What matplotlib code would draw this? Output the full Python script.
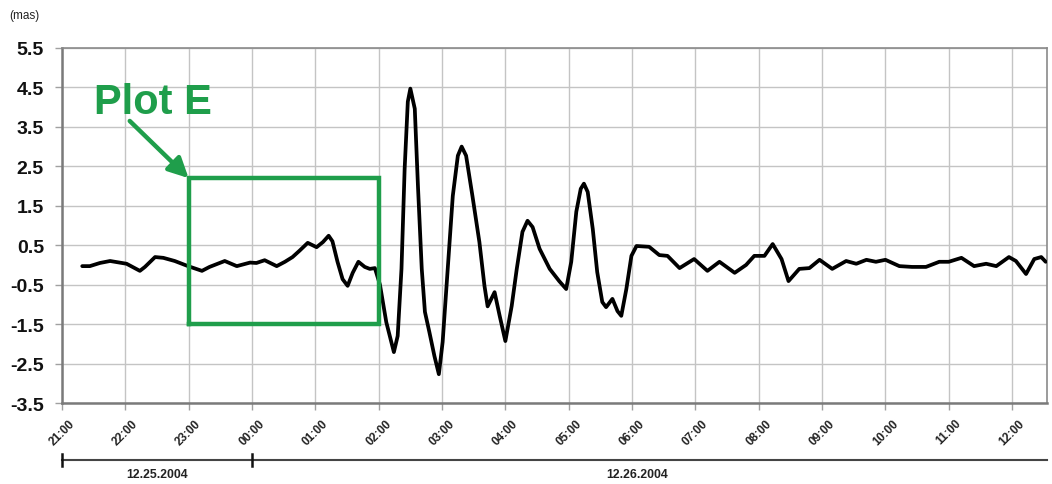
import matplotlib
matplotlib.use("Agg")
import matplotlib.pyplot as plt

plt.rcParams["font.family"] = ["Liberation Sans", "DejaVu Sans"]

# Hours elapsed since 21:00 on 12.25.2004, and measured signal (mas)
hours = [0.32, 0.44, 0.60, 0.76, 1.02, 1.23, 1.31, 1.47, 1.60, 1.78,
         1.99, 2.21, 2.33, 2.57, 2.76, 2.97, 3.07, 3.20, 3.39, 3.52,
         3.64, 3.75, 3.88, 4.02, 4.12, 4.21, 4.27, 4.35, 4.43, 4.51,
         4.59, 4.68, 4.78, 4.86, 4.94, 5.02, 5.12, 5.24, 5.30, 5.36,
         5.41, 5.46, 5.50, 5.57, 5.62, 5.68, 5.73, 5.80, 5.88, 5.95,
         6.01, 6.09, 6.17, 6.25, 6.31, 6.38, 6.48, 6.59, 6.67, 6.72,
         6.83, 6.91, 7.00, 7.10, 7.18, 7.27, 7.35, 7.43, 7.54, 7.70,
         7.85, 7.96, 8.04, 8.12, 8.19, 8.24, 8.30, 8.38, 8.45, 8.53,
         8.59, 8.69, 8.77, 8.83, 8.91, 8.99, 9.07, 9.27, 9.43, 9.56,
         9.75, 9.98, 10.19, 10.38, 10.62, 10.80, 10.93, 11.09, 11.22, 11.36,
         11.47, 11.64, 11.80, 11.96, 12.16, 12.38, 12.54, 12.70, 12.85, 13.00,
         13.22, 13.42, 13.64, 13.85, 14.00, 14.20, 14.40, 14.59, 14.75, 14.95,
         15.06, 15.22, 15.35, 15.46, 15.53]
mas = [-0.03, -0.03, 0.05, 0.10, 0.03, -0.15, -0.05, 0.20, 0.18, 0.10,
       -0.03, -0.15, -0.05, 0.10, -0.03, 0.06, 0.05, 0.12, -0.03, 0.08,
       0.20, 0.36, 0.56, 0.45, 0.58, 0.74, 0.60, 0.08, -0.36, -0.53,
       -0.20, 0.08, -0.05, -0.10, -0.08, -0.50, -1.45, -2.21, -1.80, -0.10,
       2.44, 4.14, 4.47, 3.96, 2.00, -0.10, -1.19, -1.70, -2.31, -2.77,
       -1.95, -0.10, 1.75, 2.77, 3.00, 2.77, 1.75, 0.58, -0.53, -1.05,
       -0.69, -1.29, -1.93, -1.04, -0.10, 0.84, 1.12, 0.96, 0.41, -0.10,
       -0.41, -0.61, 0.08, 1.35, 1.93, 2.06, 1.85, 0.91, -0.18, -0.94,
       -1.07, -0.86, -1.17, -1.29, -0.61, 0.23, 0.48, 0.46, 0.25, 0.23,
       -0.08, 0.15, -0.15, 0.08, -0.20, 0.00, 0.23, 0.23, 0.53, 0.15,
       -0.41, -0.10, -0.08, 0.13, -0.10, 0.10, 0.03, 0.13, 0.08, 0.13,
       -0.03, -0.05, -0.05, 0.08, 0.08, 0.18, -0.03, 0.03, -0.03, 0.20,
       0.10, -0.23, 0.15, 0.20, 0.08]

hour_labels = ["21:00", "22:00", "23:00", "00:00", "01:00", "02:00", "03:00",
               "04:00", "05:00", "06:00", "07:00", "08:00", "09:00", "10:00",
               "11:00", "12:00"]
y_ticks = [5.5, 4.5, 3.5, 2.5, 1.5, 0.5, -0.5, -1.5, -2.5, -3.5]

# Highlighted window "Plot E": 23:00 to 02:00
box_x = [2.0, 5.0]
box_y = [-1.5, 2.2]
dates = ["12.25.2004", "12.26.2004"]

green = "#1f9e4b"
x_max = 15.55

fig = plt.figure(figsize=(10.52, 4.85), dpi=100)
ax_left, ax_w = 0.0589, 0.9363
ax = fig.add_axes([ax_left, 0.167, ax_w, 0.732])

ax.plot(hours, mas, color="black", lw=2.7, solid_joinstyle="round",
        solid_capstyle="round", zorder=3)

ax.set_xlim(0, x_max)
ax.set_ylim(-3.5, 5.5)
ax.set_xticks(range(len(hour_labels)))
ax.set_xticklabels(hour_labels, rotation=45, fontsize=8.5, fontweight="bold",
                   color="#222222")
ax.set_yticks(y_ticks)
ax.set_yticklabels([f"{v:.1f}" for v in y_ticks], fontsize=14,
                   fontweight="bold", color="#111111")
ax.grid(True, color="#c4c4c4", lw=1.0, zorder=0)
ax.tick_params(axis="both", length=5, color="#a0a0a0", width=1)
ax.tick_params(axis="y", pad=8)
ax.tick_params(axis="x", pad=5)
for side in ["left", "bottom"]:
    ax.spines[side].set_color("#7a7a7a")
    ax.spines[side].set_linewidth(1.8)
for side in ["top", "right"]:
    ax.spines[side].set_color("#8a8a8a")
    ax.spines[side].set_linewidth(1.2)

# Highlight box with arrow and label
ax.plot([box_x[0], box_x[1], box_x[1], box_x[0], box_x[0]],
        [box_y[0], box_y[0], box_y[1], box_y[1], box_y[0]],
        color=green, lw=3.2, solid_joinstyle="miter", zorder=4)
ax.annotate("", xy=(box_x[0], box_y[1]), xytext=(1.07, 3.65),
            arrowprops=dict(arrowstyle="-|>,head_length=1.2,head_width=0.6",
                            color=green, lw=3.2, shrinkA=0, shrinkB=0),
            zorder=5)
ax.text(0.50, 4.12, "Plot E", color=green, fontsize=30, fontweight="bold",
        ha="left", va="center", zorder=5)

# Unit label
fig.text(0.009, 0.967, "(mas)", fontsize=8.5, color="#222222", ha="left",
         va="center")

# Date bracket under the time axis
def fx(h):
    return ax_left + ax_w * h / x_max

line_y = 1 - 461 / 485
tick_h = 6 / 485
fig.add_artist(plt.Line2D([fx(0), fx(x_max)], [line_y, line_y],
                          color="#444444", lw=1.5, transform=fig.transFigure))
for h in [0, 3]:
    fig.add_artist(plt.Line2D([fx(h), fx(h)], [line_y - tick_h, line_y + tick_h],
                              color="#111111", lw=1.8,
                              transform=fig.transFigure))
fig.text(fx(1.5), 1 - 475 / 485, dates[0], fontsize=8.8, fontweight="bold",
         ha="center", va="center", color="#222222")
fig.text(fx(9.08), 1 - 475 / 485, dates[1], fontsize=8.8, fontweight="bold",
         ha="center", va="center", color="#222222")

fig.savefig("out.png", dpi=100, facecolor="white")
